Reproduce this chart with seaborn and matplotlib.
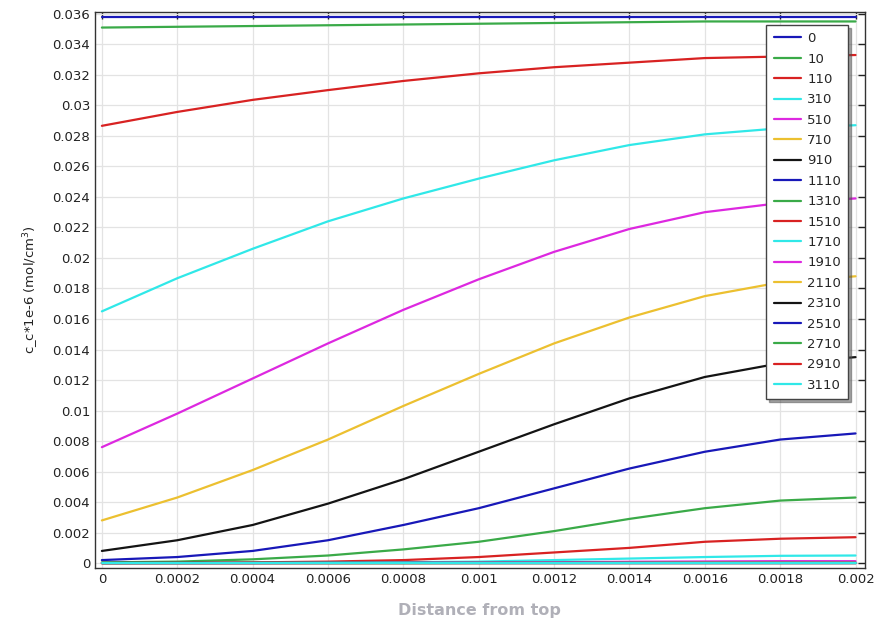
import numpy as np
import pandas as pd
import matplotlib
matplotlib.use("Agg")
import matplotlib.pyplot as plt
import seaborn as sns
from matplotlib.ticker import MultipleLocator

# ---- data ----
x_vals = [0.0, 0.0002, 0.0004, 0.0006, 0.0008, 0.001, 0.0012, 0.0014, 0.0016, 0.0018, 0.002]
times = ["0", "10", "110", "310", "510", "710", "910", "1110", "1310", "1510",
         "1710", "1910", "2110", "2310", "2510", "2710", "2910", "3110"]

c_0    = [0.0358] * 11
c_10   = [0.0351, 0.03515, 0.0352, 0.03525, 0.0353, 0.03535, 0.0354, 0.03545, 0.0355, 0.0355, 0.0355]
c_110  = [0.02866, 0.02957, 0.03036, 0.0310, 0.0316, 0.0321, 0.0325, 0.0328, 0.0331, 0.0332, 0.0333]
c_310  = [0.0165, 0.01867, 0.0206, 0.0224, 0.0239, 0.0252, 0.0264, 0.0274, 0.0281, 0.0285, 0.0287]
c_510  = [0.0076, 0.0098, 0.0121, 0.0144, 0.0166, 0.0186, 0.0204, 0.0219, 0.0230, 0.0236, 0.0239]
c_710  = [0.0028, 0.0043, 0.0061, 0.0081, 0.0103, 0.0124, 0.0144, 0.0161, 0.0175, 0.0184, 0.0188]
c_910  = [0.0008, 0.0015, 0.0025, 0.0039, 0.0055, 0.0073, 0.0091, 0.0108, 0.0122, 0.0131, 0.0135]
c_1110 = [0.0002, 0.0004, 0.0008, 0.0015, 0.0025, 0.0036, 0.0049, 0.0062, 0.0073, 0.0081, 0.0085]
c_1310 = [0.00005, 0.0001, 0.00025, 0.0005, 0.0009, 0.0014, 0.0021, 0.0029, 0.0036, 0.0041, 0.0043]
c_1510 = [0.0, 0.00002, 0.00005, 0.0001, 0.0002, 0.0004, 0.0007, 0.0010, 0.0014, 0.0016, 0.0017]
c_1710 = [0.0, 0.0, 0.00001, 0.00003, 0.00006, 0.0001, 0.0002, 0.0003, 0.0004, 0.00048, 0.0005]
c_1910 = [0.0, 0.0, 0.0, 0.00001, 0.00002, 0.00004, 0.00006, 0.00009, 0.00011, 0.00013, 0.00013]
c_2110 = [0.0, 0.0, 0.0, 0.0, 0.0, 0.00001, 0.00001, 0.00002, 0.00003, 0.00003, 0.00003]
c_2310 = [0.0] * 11
c_2510 = [0.0] * 11
c_2710 = [0.0] * 11
c_2910 = [0.0] * 11
c_3110 = [0.0] * 11

series = [c_0, c_10, c_110, c_310, c_510, c_710, c_910, c_1110, c_1310, c_1510,
          c_1710, c_1910, c_2110, c_2310, c_2510, c_2710, c_2910, c_3110]

base_colors = ["#1818b8", "#3aaa48", "#d82222", "#30e8e8", "#dd28e0", "#ecc030", "#141414"]
palette = [base_colors[i % 7] for i in range(len(times))]

rows = []
for t, ys in zip(times, series):
    for xv, yv in zip(x_vals, ys):
        rows.append({"x": xv, "c": yv, "t": t})
df = pd.DataFrame(rows)

sns.set_style("white")
plt.rcParams["font.family"] = ["DejaVu Sans"]

fig = plt.figure(figsize=(8.95, 6.23), dpi=100)
ax = fig.add_axes([0.106, 0.088, 0.860, 0.893])

sns.lineplot(data=df, x="x", y="c", hue="t", hue_order=times, palette=palette,
             linewidth=1.6, ax=ax, sort=False, estimator=None)

ax.set_xlim(-0.0000186, 0.002024)
ax.set_ylim(-0.00033, 0.03613)
ax.xaxis.set_major_locator(MultipleLocator(0.0002))
ax.yaxis.set_major_locator(MultipleLocator(0.002))
ax.xaxis.set_major_formatter(plt.FuncFormatter(lambda v, p: "%g" % round(v, 6)))
ax.yaxis.set_major_formatter(plt.FuncFormatter(lambda v, p: "%g" % round(v, 6)))
ax.tick_params(direction="in", length=5, width=1, top=True, right=True,
               labelsize=9.5, colors="#222222", labelcolor="#222222")
ax.grid(True, color="#e3e3e3", linewidth=0.9)
for s in ax.spines.values():
    s.set_color("#333333")
    s.set_linewidth(1.0)

ax.set_xlabel("Distance from top", fontsize=11.5, fontweight="bold", color="#b0b0b8", labelpad=12)
ax.set_ylabel("c_c*1e-6 (mol/cm$^3$)", fontsize=9.5, color="#222222", labelpad=8)

leg = ax.legend(loc="upper right", bbox_to_anchor=(0.979, 0.9766), borderaxespad=0.0,
                fontsize=9.5, frameon=True, fancybox=False, shadow=True,
                handlelength=2.1, handletextpad=0.45, labelspacing=0.56,
                borderpad=0.55, title=None)
leg.get_frame().set_edgecolor("#444444")
leg.get_frame().set_linewidth(1.0)

fig.savefig("out.png", dpi=100)
